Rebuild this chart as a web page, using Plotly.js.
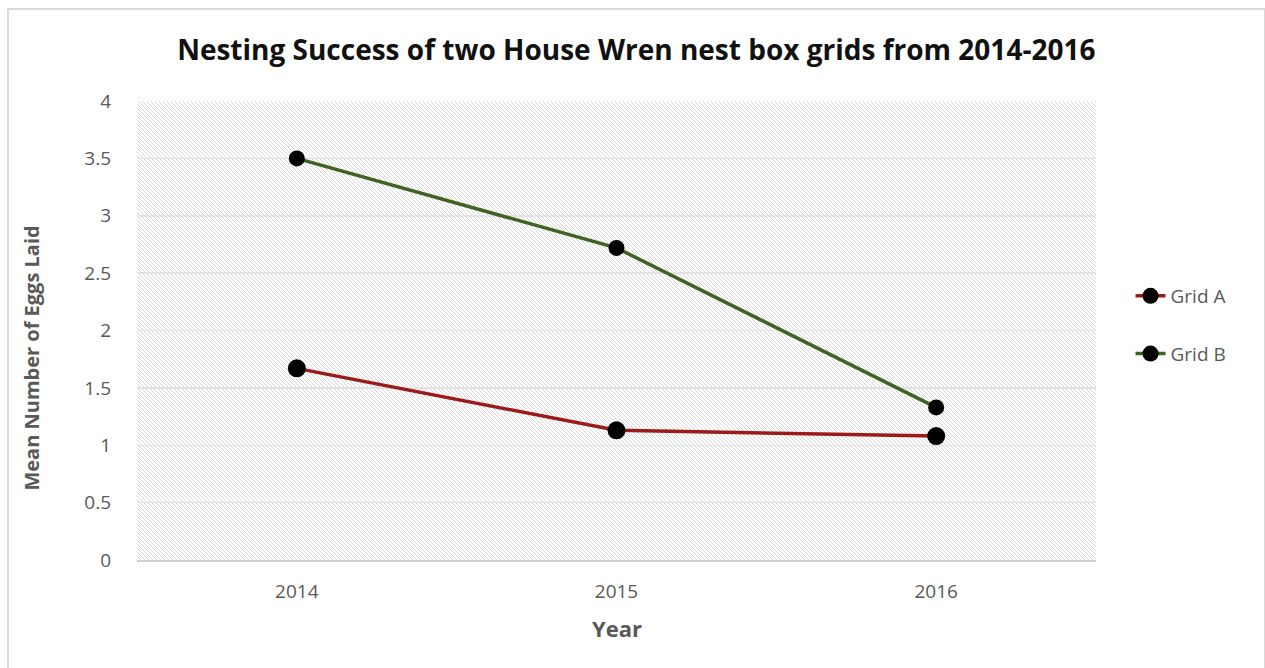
<!DOCTYPE html>
<html>
<head>
<meta charset="utf-8">
<script src="https://cdn.plot.ly/plotly-3.0.1.min.js"></script>
<style>
  html, body { margin: 0; padding: 0; background: #ffffff; }
  #chart { position: absolute; left: 0; top: 0; width: 1265px; height: 668px; }
  #frame { position: absolute; left: 7px; top: 8px; width: 1255px; height: 672px; border: 2px solid #d9d9d9; pointer-events: none; }
</style>
</head>
<body>
<div id="chart"></div>
<div id="frame"></div>
<script>
const years = ['2014', '2015', '2016'];
const gridA = [1.67, 1.13, 1.08];
const gridB = [3.5, 2.72, 1.33];
const seriesNames = ['Grid A', 'Grid B'];
const yTicks = [0, 0.5, 1, 1.5, 2, 2.5, 3, 3.5, 4];
const yTickText = ['0', '0.5', '1', '1.5', '2', '2.5', '3', '3.5', '4'];
const chartTitle = 'Nesting Success of two House Wren nest box grids from 2014-2016';
const xTitle = 'Year';
const yTitle = 'Mean Number of Eggs Laid';

const FONT = '"Open Sans", sans-serif';
const W = 959, H = 459;
let lines = '';
for (let k = -H; k < W + H; k += 4) {
  lines += `<line x1="${k}" y1="0" x2="${k + H}" y2="${H}" stroke="#d8d8d8" stroke-width="1"/>`;
}
const svg = `<svg xmlns="http://www.w3.org/2000/svg" width="${W}" height="${H}" viewBox="0 0 ${W} ${H}"><rect width="${W}" height="${H}" fill="#ffffff"/>${lines}</svg>`;
const hatch = 'data:image/svg+xml;charset=utf-8,' + encodeURIComponent(svg);

const traces = [
  {
    x: years, y: gridA, name: seriesNames[0], type: 'scatter', mode: 'lines+markers',
    line: { color: '#9c1a1a', width: 3.5 },
    marker: { color: '#000000', size: 18 },
    legendgroup: 'a'
  },
  {
    x: years, y: gridB, name: seriesNames[1], type: 'scatter', mode: 'lines+markers',
    line: { color: '#3f6322', width: 3.5 },
    marker: { color: '#000000', size: 16 },
    legendgroup: 'b'
  }
];

const layout = {
  width: 1265, height: 668,
  margin: { l: 137, r: 169, t: 101, b: 108 },
  paper_bgcolor: 'rgba(0,0,0,0)',
  plot_bgcolor: '#ffffff',
  title: {
    text: '<b>' + chartTitle + '</b>',
    font: { family: FONT, size: 28, color: '#111111' },
    x: 0.503, xanchor: 'center', y: 0.925, yanchor: 'middle'
  },
  xaxis: {
    type: 'category',
    range: [-0.5, 2.5],
    showgrid: false,
    showline: true, linecolor: '#d0d0d0', linewidth: 2,
    ticks: '',
    ticklabelstandoff: 13,
    tickfont: { family: FONT, size: 19, color: '#595959' },
    zeroline: false
  },
  yaxis: {
    range: [0, 4],
    tickvals: yTicks, ticktext: yTickText,
    showgrid: true, gridcolor: '#e3e3e3', gridwidth: 1.5,
    zeroline: false, showline: false, ticks: '',
    ticklabelstandoff: 25,
    tickfont: { family: FONT, size: 19, color: '#595959' }
  },
  annotations: [
    {
      text: '<b>' + xTitle + '</b>', xref: 'paper', yref: 'paper',
      x: 0.5, y: -0.148, xanchor: 'center', yanchor: 'middle', showarrow: false,
      font: { family: FONT, size: 22, color: '#595959' }
    },
    {
      text: '<b>' + yTitle + '</b>', xref: 'paper', yref: 'paper',
      x: -0.111, y: 0.44, xanchor: 'center', yanchor: 'middle', showarrow: false, textangle: -90,
      font: { family: FONT, size: 20, color: '#595959' }
    }
  ],
  legend: {
    x: 1.036, xanchor: 'left', y: 0.512, yanchor: 'middle',
    font: { family: FONT, size: 19, color: '#595959' },
    traceorder: 'grouped', tracegroupgap: 30,
    bgcolor: 'rgba(0,0,0,0)'
  },
  images: [{
    source: hatch, xref: 'paper', yref: 'paper', x: 0, y: 1,
    sizex: 1, sizey: 1, sizing: 'stretch', layer: 'below',
    xanchor: 'left', yanchor: 'top'
  }],
  showlegend: true
};

Plotly.newPlot('chart', traces, layout, { displayModeBar: false, staticPlot: true });
</script>
</body>
</html>
